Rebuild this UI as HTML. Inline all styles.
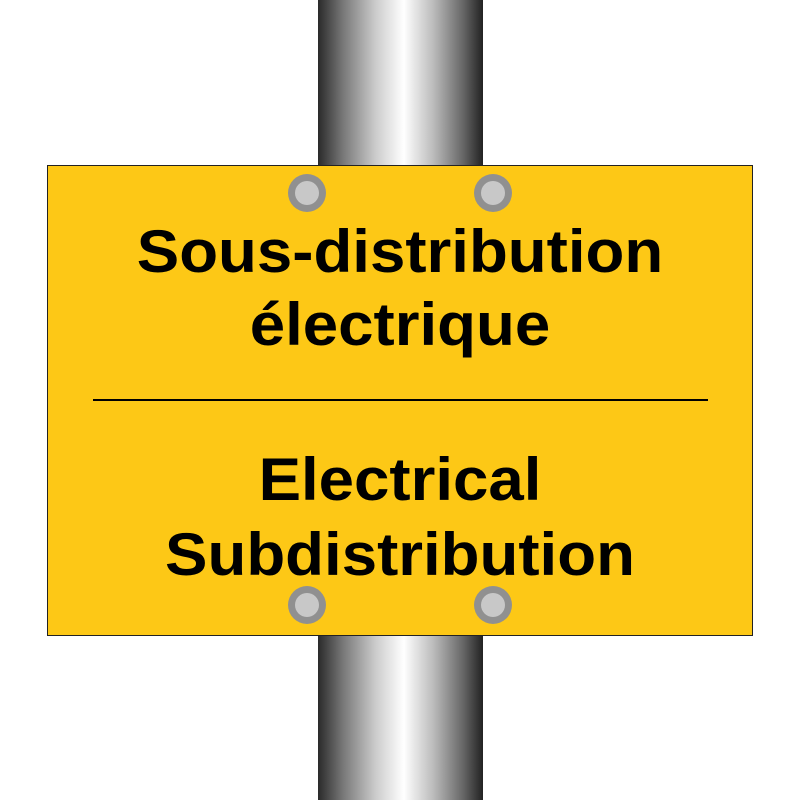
<!DOCTYPE html>
<html><head><style>
body{margin:0;width:800px;height:800px;background:#fff;position:relative;overflow:hidden;font-family:"Liberation Sans",sans-serif}
.pole{position:absolute;left:318px;top:0;width:165px;height:800px;background:linear-gradient(to right,#2a2a2a 0%,#777 15%,#ccc 35%,#fff 52%,#bbb 70%,#666 88%,#222 100%)}
.sign{position:absolute;left:47px;top:165px;width:706px;height:471px;background:#fdc816;border:1px solid #222;box-sizing:border-box}
.bolt{position:absolute;width:38px;height:38px;border-radius:50%;background:#909090;box-sizing:border-box}
.bolt::after{content:"";position:absolute;left:7px;top:7px;width:24px;height:24px;border-radius:50%;background:#c8c8c8}
.t{position:absolute;left:0;width:800px;text-align:center;font-weight:bold;font-size:60px;color:#000;line-height:1;transform:scaleX(1.06)}
.line{position:absolute;left:93px;top:399px;width:615px;height:2px;background:#000}
</style></head><body>
<div class="pole"></div>
<div class="sign"></div>
<div class="bolt" style="left:288px;top:174px"></div>
<div class="bolt" style="left:474px;top:174px"></div>
<div class="bolt" style="left:288px;top:586px"></div>
<div class="bolt" style="left:474px;top:586px"></div>
<div class="t" style="top:222px">Sous-distribution</div>
<div class="t" style="top:295px">électrique</div>
<div class="line"></div>
<div class="t" style="top:450px">Electrical</div>
<div class="t" style="top:525px">Subdistribution</div>
</body></html>
